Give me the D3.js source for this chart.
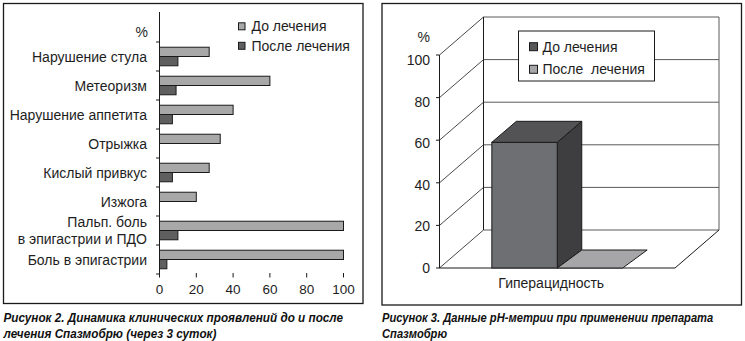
<!DOCTYPE html>
<html><head><meta charset="utf-8">
<script src="https://cdn.jsdelivr.net/npm/d3@7"></script>
<style>
html,body{margin:0;padding:0;background:#fff;}
svg{display:block;}
text{font-family:"Liberation Sans",Arial,Helvetica,sans-serif;fill:#1e1e1e;}
</style></head>
<body>
<svg id="c" width="745" height="341"></svg>
<script>
// ---------- data ----------
const leftUnit = "%";
const leftCategories = ["Нарушение стула","Метеоризм","Нарушение аппетита","Отрыжка","Кислый привкус","Изжога","Пальп. боль\nв эпигастрии и ПДО","Боль в эпигастрии"];
const leftBefore = [27, 60, 40, 33, 27, 20, 100, 100];
const leftAfter  = [10, 9, 7, 0, 7, 0, 10, 4];
const leftTicks = [0, 20, 40, 60, 80, 100];
const leftSeries = ["До лечения", "После лечения"];
const leftCaption = ["Рисунок 2. Динамика клинических проявлений до и после", "лечения Спазмобрю (через 3 суток)"];

const rightUnit = "%";
const rightCategories = ["Гиперацидность"];
const rightBefore = [59];
const rightAfter = [0];
const rightTicks = [0, 20, 40, 60, 80, 100];
const rightSeries = ["До лечения", "После  лечения"];
const rightCaption = ["Рисунок 3. Данные рН-метрии при применении препарата", "Спазмобрю"];

// ---------- setup ----------
const svg = d3.select("#c");
const stroke = "#1a1a1a";

// panel frames
svg.append("rect").attr("x",3.5).attr("y",3.5).attr("width",359.5).attr("height",300)
  .attr("fill","none").attr("stroke",stroke).attr("stroke-width",1.3);
svg.append("rect").attr("x",382).attr("y",3.5).attr("width",359.5).attr("height",301.5)
  .attr("fill","none").attr("stroke",stroke).attr("stroke-width",1.3);

// ================= LEFT CHART =================
const L = svg.append("g");
const xL = d3.scaleLinear().domain([0,100]).range([159.5,343.5]);
const bandDomain = [leftUnit, ...leftCategories];
const yL = d3.scaleBand().domain(bandDomain).range([13,274]).paddingInner(0.36).paddingOuter(0.18);
const yInner = d3.scaleBand().domain(leftSeries).range([0, yL.bandwidth()]);
const colL = d3.scaleOrdinal().domain(leftSeries).range(["#a8a8a8","#5f5f5f"]);

const rowsL = leftCategories.map((c,i)=>({c, vals:[{s:leftSeries[0],v:leftBefore[i]},{s:leftSeries[1],v:leftAfter[i]}]}));
const rowG = L.selectAll("g.row").data(rowsL).join("g").attr("class","row")
  .attr("transform", d=>`translate(0,${yL(d.c)})`);
rowG.selectAll("rect").data(d=>d.vals.filter(e=>e.v>0)).join("rect")
  .attr("x", xL(0)).attr("y", e=>yInner(e.s)).attr("width", e=>xL(e.v)-xL(0))
  .attr("height", yInner.bandwidth()).attr("fill", e=>colL(e.s))
  .attr("stroke", stroke).attr("stroke-width",1);

// y axis line and boundary ticks
L.append("line").attr("x1",xL(0)).attr("x2",xL(0)).attr("y1",12).attr("y2",274)
  .attr("stroke",stroke).attr("stroke-width",1);
const step = yL.step();
const bounds = d3.range(1, bandDomain.length+1).map(k=>13 + k*step);
L.selectAll("line.yt").data(bounds).join("line").attr("class","yt")
  .attr("x1",xL(0)-3.5).attr("x2",xL(0)).attr("y1",d=>d).attr("y2",d=>d)
  .attr("stroke",stroke).attr("stroke-width",1);

// category labels
leftCategories.forEach(c=>{
  const lines = c.split("\n");
  const cy = yL(c) + yL.bandwidth()/2;
  const t = L.append("text").attr("text-anchor","end").attr("font-size",14);
  lines.forEach((ln,j)=>{
    const off = (j - (lines.length-1)/2)*16.5;
    t.append("tspan").attr("x",147).attr("y",cy+off).attr("dy","0.36em").text(ln);
  });
});
// unit label
L.append("text").attr("x",148).attr("y", yL(leftUnit)+yL.bandwidth()/2+4).attr("dy","0.36em")
  .attr("text-anchor","end").attr("font-size",14).text(leftUnit);

// x ticks
L.selectAll("line.xt").data(leftTicks).join("line").attr("class","xt")
  .attr("x1",d=>xL(d)).attr("x2",d=>xL(d)).attr("y1",273).attr("y2",277.5)
  .attr("stroke",stroke).attr("stroke-width",1);
L.selectAll("text.xl").data(leftTicks).join("text").attr("class","xl")
  .attr("x",d=>xL(d)).attr("y",294).attr("text-anchor","middle").attr("font-size",13.5).text(d=>d);

// legend
const legL = L.selectAll("g.leg").data(leftSeries).join("g").attr("class","leg")
  .attr("transform",(d,i)=>`translate(238.5,${26.3+i*19.5})`);
legL.append("rect").attr("x",0).attr("y",-3.5).attr("width",6.5).attr("height",7)
  .attr("fill",d=>colL(d)).attr("stroke",stroke).attr("stroke-width",1);
legL.append("text").attr("x",13).attr("y",0).attr("dy","0.36em").attr("font-size",14).text(d=>d);

// ================= RIGHT CHART =================
const R = svg.append("g");
const yR = d3.scaleLinear().domain([0,100]).range([268,55]);
const yRlab = d3.scaleLinear().domain([0,100]).range([268,60]);
const DX = 44, DY = -38;
const fx0 = 439.5, fx1 = 675, bx1 = fx1 + DX;
const wallC = "#5a5a5a";

// back wall gridlines
R.selectAll("line.g").data(rightTicks).join("line").attr("class","g")
  .attr("x1",fx0+DX).attr("x2",bx1).attr("y1",d=>yR(d)+DY).attr("y2",d=>yR(d)+DY)
  .attr("stroke",wallC).attr("stroke-width",1);
// back wall verticals
R.append("line").attr("x1",fx0+DX).attr("x2",fx0+DX).attr("y1",yR(100)+DY).attr("y2",yR(0)+DY)
  .attr("stroke",stroke).attr("stroke-width",1);
R.append("line").attr("x1",bx1).attr("x2",bx1).attr("y1",yR(100)+DY).attr("y2",yR(0)+DY)
  .attr("stroke",wallC).attr("stroke-width",1);
// side wall diagonals
R.selectAll("line.d").data(rightTicks).join("line").attr("class","d")
  .attr("x1",fx0).attr("x2",fx0+DX).attr("y1",d=>yR(d)).attr("y2",d=>yR(d)+DY)
  .attr("stroke",stroke).attr("stroke-width",0.8);
// floor
R.append("line").attr("x1",fx0).attr("x2",fx1).attr("y1",yR(0)).attr("y2",yR(0))
  .attr("stroke",stroke).attr("stroke-width",1);
R.append("line").attr("x1",fx1).attr("x2",bx1).attr("y1",yR(0)).attr("y2",yR(0)+DY)
  .attr("stroke",stroke).attr("stroke-width",1);
// front axis
R.append("line").attr("x1",fx0).attr("x2",fx0).attr("y1",yR(100)).attr("y2",yR(0))
  .attr("stroke",stroke).attr("stroke-width",1);
R.selectAll("line.t").data(rightTicks).join("line").attr("class","t")
  .attr("x1",fx0-3.5).attr("x2",fx0).attr("y1",d=>yR(d)).attr("y2",d=>yR(d))
  .attr("stroke",stroke).attr("stroke-width",1);
R.selectAll("text.yl").data(rightTicks).join("text").attr("class","yl")
  .attr("x",430).attr("y",d=>yRlab(d)).attr("dy","0.36em").attr("text-anchor","end")
  .attr("font-size",14).text(d=>d);
R.append("text").attr("x",430).attr("y",37).attr("dy","0.36em").attr("text-anchor","end")
  .attr("font-size",14).text(rightUnit);

// bars
const xR = d3.scaleBand().domain(rightCategories).range([fx0,fx1]).paddingOuter(0.4).paddingInner(0);
const xRin = d3.scaleBand().domain(rightSeries).range([0,xR.bandwidth()]);
const BDX = 24.5;
const bdy = y => -18 + (y - yR(0))*0.024;
const faces = {front:["#6e6f72","#a6a6a8"], top:["#535355","#a6a6a8"], side:["#3e3e40","#a6a6a8"]};
const rowsR = rightCategories.map((c,i)=>[{c,s:rightSeries[0],v:rightBefore[i],k:0},{c,s:rightSeries[1],v:rightAfter[i],k:1}]).flat();
const P = pts => pts.map(p=>p.join(",")).join(" ");
rowsR.forEach(d=>{
  const x0 = xR(d.c) + xRin(d.s), x1 = x0 + xRin.bandwidth();
  const yb = yR(0), yt = yR(d.v);
  const g = R.append("g");
  if (d.v > 0) {
    g.append("polygon").attr("points",P([[x1,yt],[x1+BDX,yt+bdy(yt)],[x1+BDX,yb+bdy(yb)],[x1,yb]]))
      .attr("fill",faces.side[d.k]).attr("stroke",stroke).attr("stroke-width",1).attr("stroke-linejoin","round");
    g.append("rect").attr("x",x0).attr("y",yt).attr("width",x1-x0).attr("height",yb-yt)
      .attr("fill",faces.front[d.k]).attr("stroke",stroke).attr("stroke-width",1);
  }
  g.append("polygon").attr("points",P([[x0,yt],[x1,yt],[x1+BDX,yt+bdy(yt)],[x0+BDX,yt+bdy(yt)]]))
    .attr("fill",faces.top[d.k]).attr("stroke",stroke).attr("stroke-width",1).attr("stroke-linejoin","round");
});

// category label
R.selectAll("text.cat").data(rightCategories).join("text").attr("class","cat")
  .attr("x",d=>xR(d)+xR.bandwidth()/2-6).attr("y",288.3).attr("text-anchor","middle")
  .attr("font-size",14).text(d=>d);

// legend
R.append("rect").attr("x",518.5).attr("y",31).attr("width",136).attr("height",50)
  .attr("fill","#fff").attr("stroke",stroke).attr("stroke-width",1);
const legColR = ["#58585a","#a6a6a8"];
const legR = R.selectAll("g.leg").data(rightSeries).join("g").attr("class","leg")
  .attr("transform",(d,i)=>`translate(529.5,${46.7+i*22.6})`);
legR.append("rect").attr("x",0).attr("y",-4).attr("width",8).attr("height",8)
  .attr("fill",(d,i)=>legColR[i]).attr("stroke",stroke).attr("stroke-width",1);
legR.append("text").attr("x",13).attr("y",0).attr("dy","0.36em").attr("font-size",14)
  .style("white-space","pre").text(d=>d);

// ================= CAPTIONS =================
function caption(lines, x, targetW){
  const g = svg.append("g");
  const ts = lines.map((ln,i)=>g.append("text").attr("x",0).attr("y",322+i*16)
    .attr("font-family","'Liberation Sans',Arial,sans-serif")
    .attr("font-weight","bold").attr("font-style","italic").attr("font-size",12.5)
    .style("fill","#111").text(ln));
  const f = targetW / ts[0].node().getComputedTextLength();
  g.attr("transform",`translate(${x},0) scale(${f},1)`);
}
caption(leftCaption, 3.5, 340);
caption(rightCaption, 382, 331.5);
</script>
</body></html>
